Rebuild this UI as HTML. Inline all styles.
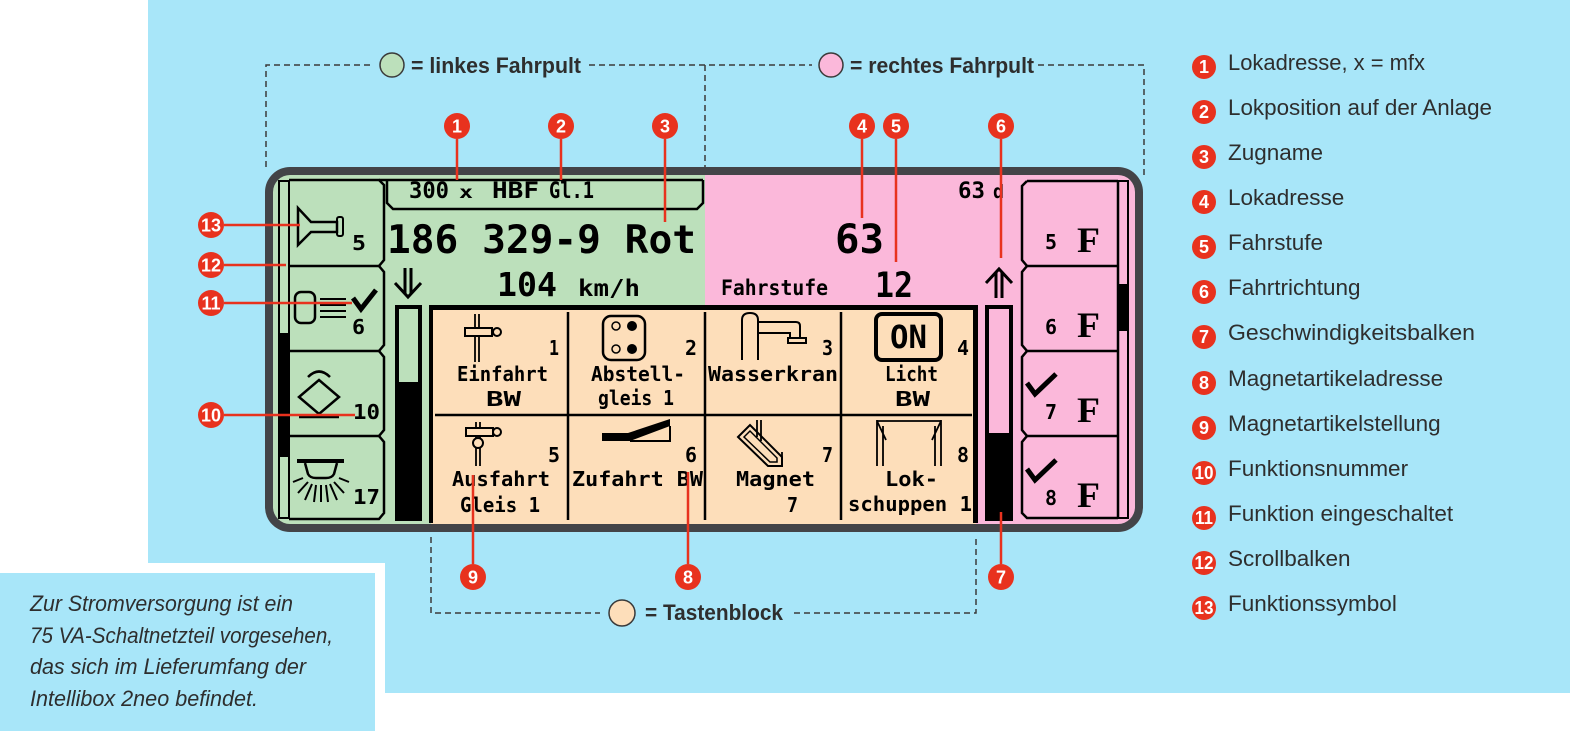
<!DOCTYPE html>
<html><head><meta charset="utf-8">
<style>
html,body{margin:0;padding:0;background:#fff;}
svg{display:block;}
.lcd{font-family:"DejaVu Sans Mono","Liberation Mono",monospace;font-weight:bold;fill:#000;}
.ser{font-family:"Liberation Serif","DejaVu Serif",serif;font-weight:bold;fill:#000;}
.leg{font-family:"Liberation Sans","DejaVu Sans",sans-serif;fill:#2e2e2e;font-size:22.5px;}
.top{font-family:"Liberation Sans","DejaVu Sans",sans-serif;fill:#2e2e2e;font-size:22px;font-weight:bold;}
.note{font-family:"Liberation Sans","DejaVu Sans",sans-serif;fill:#2e2e2e;font-size:22px;font-style:italic;}
.bn{font-family:"Liberation Sans","DejaVu Sans",sans-serif;font-weight:bold;fill:#fff;font-size:18px;text-anchor:middle;}
</style></head><body>
<svg width="1570" height="737" viewBox="0 0 1570 737" xmlns="http://www.w3.org/2000/svg">
<!-- backgrounds -->
<rect x="148" y="0" width="1422" height="693" fill="#a8e6f9"/>
<rect x="0" y="563" width="385" height="174" fill="#fff"/>
<rect x="0" y="573" width="375" height="158" fill="#a8e6f9"/>

<!-- note text -->
<text class="note" x="30" y="611" textLength="263" lengthAdjust="spacingAndGlyphs">Zur Stromversorgung ist ein</text>
<text class="note" x="30" y="643" textLength="303" lengthAdjust="spacingAndGlyphs">75 VA-Schaltnetzteil vorgesehen,</text>
<text class="note" x="30" y="674" textLength="276" lengthAdjust="spacingAndGlyphs">das sich im Lieferumfang der</text>
<text class="note" x="30" y="706" textLength="228" lengthAdjust="spacingAndGlyphs">Intellibox 2neo befindet.</text>

<!-- dashed brackets -->
<g stroke="#3a3a3a" stroke-width="1.5" stroke-dasharray="6 4" fill="none">
<path d="M266,167 V65 H374"/>
<path d="M589,65 H812"/>
<path d="M705,65 V167"/>
<path d="M1038,65 H1144 V178"/>
<path d="M431,537 V613 H600"/>
<path d="M794,613 H976 V537"/>
</g>
<circle cx="392" cy="65" r="12" fill="#bce0bb" stroke="#3a3a3a" stroke-width="1.5"/>
<text class="top" x="411" y="73" textLength="170" lengthAdjust="spacingAndGlyphs">= linkes Fahrpult</text>
<circle cx="831" cy="65" r="12" fill="#fbb8da" stroke="#3a3a3a" stroke-width="1.5"/>
<text class="top" x="850" y="73" textLength="184" lengthAdjust="spacingAndGlyphs">= rechtes Fahrpult</text>
<circle cx="622" cy="613" r="13" fill="#fddeba" stroke="#3a3a3a" stroke-width="1.5"/>
<text class="top" x="645" y="620" textLength="138" lengthAdjust="spacingAndGlyphs">= Tastenblock</text>

<!-- display -->
<rect x="265" y="167" width="878" height="365" rx="25" fill="#434448"/>
<clipPath id="inner"><rect x="273" y="175" width="862" height="349" rx="17"/></clipPath>
<g clip-path="url(#inner)">
<rect x="273" y="175" width="432" height="349" fill="#bce0bb"/>
<rect x="705" y="175" width="430" height="349" fill="#fbb8da"/>
<rect x="431" y="305" width="545" height="219" fill="#fddeba"/>
</g>
<!-- grid borders -->
<rect x="429" y="305" width="549" height="5" fill="#000"/>
<rect x="429" y="305" width="4" height="218" fill="#000"/>
<rect x="973" y="305" width="5" height="218" fill="#000"/>
<g stroke="#000" stroke-width="2.5" fill="none">
<path d="M568,312 V520 M705,312 V520 M841,312 V520 M435,415 H972"/>
</g>

<!-- left panel -->
<g stroke="#000" stroke-width="2.5" fill="none">
<rect x="279" y="181" width="10" height="337" stroke-width="2"/>
<path d="M289,180 L379,180 L384,185 L384,260 L379,266 L384,272 L384,345 L379,351 L384,357 L384,430 L379,436 L384,442 L384,513 L379,519 L289,519"/>
<path d="M289,266 H379 M289,351 H379 M289,436 H379"/>
<path d="M379,180 H703 M387,180 V203 L393,209 H697 L703,203 V180"/>
</g>
<rect x="279" y="333" width="10" height="124" fill="#000"/>

<!-- left button icons -->
<g stroke="#000" stroke-width="2.5" fill="none" stroke-linejoin="miter">
<path d="M298,208 L298,245 L311,232 L337,232 L337,222 L311,222 Z"/>
<rect x="337" y="217" width="6" height="19" rx="2" stroke-width="2"/>
<rect x="295" y="292" width="20" height="31" rx="6"/>
<path d="M320,299 H346 M320,305 H346 M320,311 H346 M320,317 H346" stroke-width="2"/>
<path d="M353,298 L361,309 L376,290" stroke-width="5"/>
<polygon points="319,380 339,397 319,414 299,397"/>
<path d="M308,377 Q319,366 330,377"/>
<path d="M299,417 H339"/>
<path d="M297,461 H344" stroke-width="4"/>
<path d="M305,463 L308,474 Q310,478 316,478 L326,478 Q332,478 334,474 L337,463"/>
<path d="M293,482 L303,478 M298,493 L308,482 M305,500 L312,484 M314,502 L316,485 M321,502 L321,485 M328,502 L326,485 M337,500 L330,484 M344,493 L334,482 M349,482 L339,478" stroke-width="2"/>
</g>
<text class="lcd" x="352" y="250" font-size="20" textLength="14" lengthAdjust="spacingAndGlyphs">5</text>
<text class="lcd" x="352" y="334" font-size="20" textLength="13" lengthAdjust="spacingAndGlyphs">6</text>
<text class="lcd" x="353" y="419" font-size="20" textLength="27" lengthAdjust="spacingAndGlyphs">10</text>
<text class="lcd" x="353" y="504" font-size="20" textLength="27" lengthAdjust="spacingAndGlyphs">17</text>

<!-- header & green texts -->
<text class="lcd" x="409" y="198" font-size="22" textLength="40" lengthAdjust="spacingAndGlyphs">300</text>
<text class="lcd" x="459" y="198" font-size="17" textLength="14" lengthAdjust="spacingAndGlyphs">x</text>
<text class="lcd" x="492" y="198" font-size="22" textLength="47" lengthAdjust="spacingAndGlyphs">HBF</text>
<text class="lcd" x="549" y="198" font-size="22" textLength="45" lengthAdjust="spacingAndGlyphs">Gl.1</text>
<text class="lcd" x="387" y="253" font-size="39" textLength="309" lengthAdjust="spacingAndGlyphs">186 329-9 Rot</text>
<text class="lcd" x="497" y="296" font-size="33" textLength="60" lengthAdjust="spacingAndGlyphs">104</text>
<text class="lcd" x="578" y="296" font-size="23" textLength="62" lengthAdjust="spacingAndGlyphs">km/h</text>
<path d="M405,268 V294 M411,268 V294 M395,283 L408,297 L421,283" stroke="#000" stroke-width="3" fill="none"/>

<!-- pink texts -->
<text class="lcd" x="958" y="198" font-size="22" textLength="27" lengthAdjust="spacingAndGlyphs">63</text>
<text class="lcd" x="993" y="198" font-size="19" textLength="11" lengthAdjust="spacingAndGlyphs">d</text>
<text class="lcd" x="835" y="253" font-size="40" textLength="49" lengthAdjust="spacingAndGlyphs">63</text>
<text class="lcd" x="721" y="295" font-size="21" textLength="107" lengthAdjust="spacingAndGlyphs">Fahrstufe</text>
<text class="lcd" x="875" y="297" font-size="35" textLength="38" lengthAdjust="spacingAndGlyphs">12</text>
<path d="M996,298 V272 M1002,298 V272 M986,283 L999,269 L1012,283" stroke="#000" stroke-width="3" fill="none"/>

<!-- speed bars -->
<rect x="397" y="307" width="23" height="212" fill="#bce0bb" stroke="#000" stroke-width="4"/>
<rect x="395" y="382" width="27" height="139" fill="#000"/>
<rect x="987" y="307" width="24" height="212" fill="#fbb8da" stroke="#000" stroke-width="4"/>
<rect x="985" y="433" width="28" height="88" fill="#000"/>

<!-- right panel -->
<g stroke="#000" stroke-width="2.5" fill="none">
<path d="M1027,181 L1022,186 L1022,260 L1027,266 L1022,272 L1022,345 L1027,351 L1022,357 L1022,430 L1027,436 L1022,442 L1022,513 L1027,518 L1118,518"/>
<path d="M1027,181 H1118 M1027,266 H1118 M1027,351 H1118 M1027,436 H1118 M1118,181 V518"/>
<rect x="1118" y="181" width="10" height="337" stroke-width="2"/>
<path d="M1027,383 L1035,394 L1056,374 M1027,469 L1035,480 L1056,460" stroke-width="5"/>
</g>
<rect x="1118" y="284" width="10" height="47" fill="#000"/>
<text class="lcd" x="1045" y="249" font-size="20" textLength="12" lengthAdjust="spacingAndGlyphs">5</text>
<text class="lcd" x="1045" y="334" font-size="20" textLength="12" lengthAdjust="spacingAndGlyphs">6</text>
<text class="lcd" x="1045" y="419" font-size="20" textLength="12" lengthAdjust="spacingAndGlyphs">7</text>
<text class="lcd" x="1045" y="505" font-size="20" textLength="12" lengthAdjust="spacingAndGlyphs">8</text>
<text class="ser" x="1077" y="252" font-size="36" textLength="23" lengthAdjust="spacingAndGlyphs">F</text>
<text class="ser" x="1077" y="337" font-size="36" textLength="23" lengthAdjust="spacingAndGlyphs">F</text>
<text class="ser" x="1077" y="422" font-size="36" textLength="23" lengthAdjust="spacingAndGlyphs">F</text>
<text class="ser" x="1077" y="507" font-size="36" textLength="23" lengthAdjust="spacingAndGlyphs">F</text>

<!-- grid icons -->
<g stroke="#000" stroke-width="2" fill="none">
<!-- cell1 signal -->
<path d="M475,314 V362 M479,314 V362" stroke-width="1.8"/>
<rect x="465" y="328" width="27" height="8" fill="#fddeba"/>
<circle cx="497" cy="332" r="4" fill="#fddeba"/>
<!-- cell5 signal -->
<path d="M476,422 V466 M480,422 V466" stroke-width="1.8"/>
<rect x="466" y="428" width="27" height="8" fill="#fddeba"/>
<circle cx="497" cy="432" r="4" fill="#fddeba"/>
<circle cx="478" cy="443" r="5" fill="#fddeba"/>
<!-- cell2 -->
<rect x="603" y="316" width="42" height="44" rx="8" stroke-width="2.5"/>
<circle cx="616" cy="326" r="4" stroke-width="1.5"/>
<circle cx="616" cy="349" r="4" stroke-width="1.5"/>
<!-- cell3 water crane -->
<path d="M742,360 V320 Q742,313 750,313 Q758,313 758,320 V360"/>
<path d="M758,322 H796 Q800,322 800,326 V338 M758,333 H790 V338"/>
<rect x="788" y="338" width="18" height="5"/>
<!-- cell4 ON -->
<rect x="876" y="314" width="65" height="46" rx="6" stroke-width="4"/>
<!-- cell7 magnet -->
<polygon points="738,437 750,425 782,457 782,466 768,466"/>
<polygon points="744,437 750,431 777,458 777,462 770,462" stroke-width="1.5"/>
<path d="M757,420 V437 M761,420 V441 M782,452 V466" stroke-width="1.8"/>
<!-- cell8 loco shed -->
<path d="M877,466 V420 M883,466 V426 M935,466 V426 M941,466 V420 M877,421 H941 M877,421 L886,440 M941,421 L932,440" stroke-width="1.8"/>
<!-- cell6 switch -->
<path d="M630,441 H670 V426" stroke-width="2"/>
</g>
<circle cx="632" cy="326" r="5" fill="#000"/>
<circle cx="632" cy="349" r="5" fill="#000"/>
<polygon points="602,433 628,433 670,419 670,426 630,441 602,441" fill="#000"/>
<text class="lcd" x="890" y="348" font-size="32" textLength="37" lengthAdjust="spacingAndGlyphs">ON</text>

<!-- grid labels -->
<g class="lcd" font-size="20">
<text x="457" y="381" textLength="91" lengthAdjust="spacingAndGlyphs">Einfahrt</text>
<text x="486" y="406" textLength="35" lengthAdjust="spacingAndGlyphs">BW</text>
<text x="549" y="355" textLength="10" lengthAdjust="spacingAndGlyphs">1</text>
<text x="591" y="381" textLength="94" lengthAdjust="spacingAndGlyphs">Abstell-</text>
<text x="598" y="405" textLength="76" lengthAdjust="spacingAndGlyphs">gleis 1</text>
<text x="685" y="355" textLength="12" lengthAdjust="spacingAndGlyphs">2</text>
<text x="708" y="381" textLength="130" lengthAdjust="spacingAndGlyphs">Wasserkran</text>
<text x="822" y="355" textLength="11" lengthAdjust="spacingAndGlyphs">3</text>
<text x="885" y="381" textLength="53" lengthAdjust="spacingAndGlyphs">Licht</text>
<text x="895" y="406" textLength="35" lengthAdjust="spacingAndGlyphs">BW</text>
<text x="957" y="355" textLength="12" lengthAdjust="spacingAndGlyphs">4</text>
<text x="452" y="486" textLength="98" lengthAdjust="spacingAndGlyphs">Ausfahrt</text>
<text x="460" y="512" textLength="80" lengthAdjust="spacingAndGlyphs">Gleis 1</text>
<text x="548" y="462" textLength="12" lengthAdjust="spacingAndGlyphs">5</text>
<text x="572" y="486" textLength="131" lengthAdjust="spacingAndGlyphs">Zufahrt BW</text>
<text x="685" y="462" textLength="12" lengthAdjust="spacingAndGlyphs">6</text>
<text x="736" y="486" textLength="79" lengthAdjust="spacingAndGlyphs">Magnet</text>
<text x="787" y="512" textLength="11" lengthAdjust="spacingAndGlyphs">7</text>
<text x="822" y="462" textLength="11" lengthAdjust="spacingAndGlyphs">7</text>
<text x="885" y="486" textLength="53" lengthAdjust="spacingAndGlyphs">Lok-</text>
<text x="848" y="511" textLength="124" lengthAdjust="spacingAndGlyphs">schuppen 1</text>
<text x="957" y="462" textLength="12" lengthAdjust="spacingAndGlyphs">8</text>
</g>

<!-- red connectors -->
<g stroke="#e8321e" stroke-width="2.5" fill="none">
<path d="M457,139 V180 M561,139 V180 M665,139 V222 M862,139 V218 M896,139 V262 M1001,139 V258"/>
<path d="M224,225 H300 M224,265 H286 M224,303 H352 M224,415 H355"/>
<path d="M473,564 V475 M688,564 V472 M1001,564 V512"/>
</g>
<g fill="#e8321e">
<circle cx="457" cy="126" r="13"/><circle cx="561" cy="126" r="13"/><circle cx="665" cy="126" r="13"/>
<circle cx="862" cy="126" r="13"/><circle cx="896" cy="126" r="13"/><circle cx="1001" cy="126" r="13"/>
<circle cx="211" cy="225" r="13"/><circle cx="211" cy="265" r="13"/><circle cx="211" cy="303" r="13"/><circle cx="211" cy="415" r="13"/>
<circle cx="473" cy="577" r="13"/><circle cx="688" cy="577" r="13"/><circle cx="1001" cy="577" r="13"/>
</g>
<g class="bn">
<text x="457" y="132.5">1</text><text x="561" y="132.5">2</text><text x="665" y="132.5">3</text>
<text x="862" y="132.5">4</text><text x="896" y="132.5">5</text><text x="1001" y="132.5">6</text>
<text x="211" y="231.5" textLength="20" lengthAdjust="spacingAndGlyphs">13</text>
<text x="211" y="271.5" textLength="20" lengthAdjust="spacingAndGlyphs">12</text>
<text x="211" y="309.5" textLength="19" lengthAdjust="spacingAndGlyphs">11</text>
<text x="211" y="421.5" textLength="20" lengthAdjust="spacingAndGlyphs">10</text>
<text x="473" y="583.5">9</text><text x="688" y="583.5">8</text><text x="1001" y="583.5">7</text>
</g>

<!-- right legend -->
<g fill="#e8321e">
<circle cx="1204" cy="67" r="12"/><circle cx="1204" cy="112" r="12"/><circle cx="1204" cy="157" r="12"/>
<circle cx="1204" cy="202" r="12"/><circle cx="1204" cy="247" r="12"/><circle cx="1204" cy="292" r="12"/>
<circle cx="1204" cy="337" r="12"/><circle cx="1204" cy="383" r="12"/><circle cx="1204" cy="428" r="12"/>
<circle cx="1204" cy="473" r="12"/><circle cx="1204" cy="518" r="12"/><circle cx="1204" cy="563" r="12"/>
<circle cx="1204" cy="608" r="12"/>
</g>
<g class="bn" font-size="17">
<text x="1204" y="73">1</text><text x="1204" y="118">2</text><text x="1204" y="163">3</text>
<text x="1204" y="208">4</text><text x="1204" y="253">5</text><text x="1204" y="298">6</text>
<text x="1204" y="343">7</text><text x="1204" y="389">8</text><text x="1204" y="434">9</text>
<text x="1204" y="479" textLength="19" lengthAdjust="spacingAndGlyphs">10</text>
<text x="1204" y="524" textLength="18" lengthAdjust="spacingAndGlyphs">11</text>
<text x="1204" y="569" textLength="19" lengthAdjust="spacingAndGlyphs">12</text>
<text x="1204" y="614" textLength="19" lengthAdjust="spacingAndGlyphs">13</text>
</g>
<g class="leg">
<text x="1228" y="70" textLength="197" lengthAdjust="spacingAndGlyphs">Lokadresse, x = mfx</text>
<text x="1228" y="115" textLength="264" lengthAdjust="spacingAndGlyphs">Lokposition auf der Anlage</text>
<text x="1228" y="160">Zugname</text>
<text x="1228" y="205">Lokadresse</text>
<text x="1228" y="250">Fahrstufe</text>
<text x="1228" y="295">Fahrtrichtung</text>
<text x="1228" y="340" textLength="247" lengthAdjust="spacingAndGlyphs">Geschwindigkeitsbalken</text>
<text x="1228" y="386">Magnetartikeladresse</text>
<text x="1228" y="431">Magnetartikelstellung</text>
<text x="1228" y="476">Funktionsnummer</text>
<text x="1228" y="521">Funktion eingeschaltet</text>
<text x="1228" y="566">Scrollbalken</text>
<text x="1228" y="611">Funktionssymbol</text>
</g>
</svg>
</body></html>
